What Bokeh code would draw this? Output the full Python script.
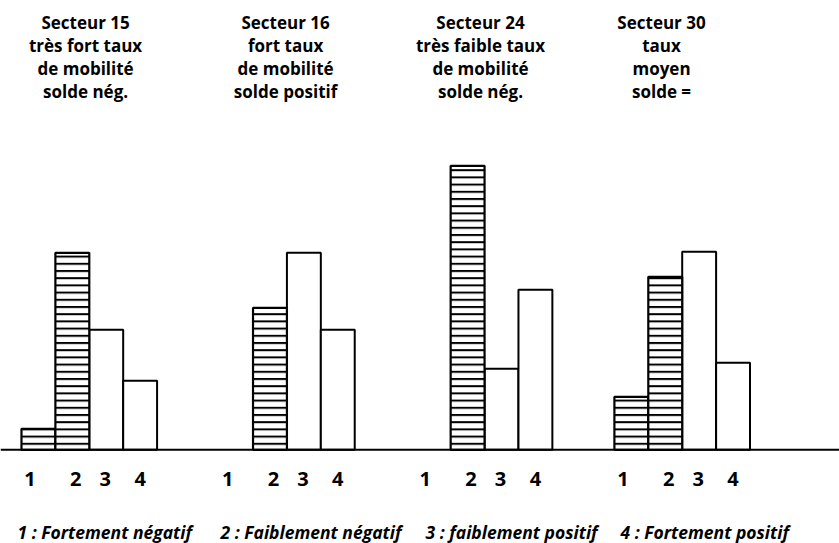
from bokeh.plotting import figure
from bokeh.models import Range1d, Span, Label
from bokeh.core.properties import value
from bokeh.embed import file_html
from bokeh.resources import INLINE

# ---- data ----
SECTEURS = ["Secteur 15", "Secteur 16", "Secteur 24", "Secteur 30"]
DESCRIPTIONS = [
    ["très fort taux", "de mobilité", "solde nég."],
    ["fort taux", "de mobilité", "solde positif"],
    ["très faible taux", "de mobilité", "solde nég."],
    ["taux", "moyen", "solde ="],
]
CLASSES = ["1", "2", "3", "4"]
SECTEUR_15 = [21, 197, 120, 69]
SECTEUR_16 = [0, 142, 197, 120]
SECTEUR_24 = [0, 284, 81, 160]
SECTEUR_30 = [53, 173, 198, 87]
LEGEND = ["1 : Fortement négatif", "2 : Faiblement négatif",
          "3 : faiblement positif", "4 : Fortement positif"]

SERIES = [SECTEUR_15, SECTEUR_16, SECTEUR_24, SECTEUR_30]
HATCHED = [True, True, False, False]

# ---- layout / style ----
GROUP_STEP = 5.83
TITLE_NUDGE = [-0.11, -0.04, -0.12, -0.61]
DIGIT_NUDGE = [-0.25, 0.1, -0.03, 0.0]
LEGEND_SCREEN_X = [17, 220, 425, 620]
FONT = value("Open Sans")

p = figure(width=839, height=543, output_backend="svg", toolbar_location=None,
           x_range=Range1d(-0.619, 24.130), y_range=Range1d(-93.7, 449.3),
           x_axis_location=None, y_axis_location=None, min_border=0)
p.grid.visible = False
p.outline_line_color = None
p.background_fill_color = "white"
p.border_fill_color = "white"

hx, hy, wx, wy = [], [], [], []
for g, vals in enumerate(SERIES):
    for b, v in enumerate(vals):
        if v <= 0:
            continue
        xc = g * GROUP_STEP + b + 0.5
        if HATCHED[b]:
            hx.append(xc); hy.append(v)
        else:
            wx.append(xc); wy.append(v)

p.vbar(x=wx, top=wy, bottom=0, width=1.0, fill_color="white",
       line_color="black", line_width=2)
p.vbar(x=hx, top=hy, bottom=0, width=1.0, fill_color="white",
       line_color="black", line_width=2.2,
       hatch_pattern="horizontal_line", hatch_color="black",
       hatch_scale=7.2, hatch_weight=2)

p.add_layout(Span(location=0, dimension="width", line_color="black", line_width=2))

# titles
tx, ty, tt = [], [], []
for g, name in enumerate(SECTEURS):
    lines = [name] + DESCRIPTIONS[g]
    for i, line in enumerate(lines):
        tx.append(g * GROUP_STEP + 2 + TITLE_NUDGE[g])
        ty.append(427.8 - 23 * i)
        tt.append(line)
p.text(x=tx, y=ty, text=tt, text_font=FONT, text_font_style="bold",
       text_font_size="17px", text_align="center", text_baseline="middle",
       text_color="black")

# class digits
dx, dy, dt = [], [], []
for g in range(len(SECTEURS)):
    for b, c in enumerate(CLASSES):
        dx.append(g * GROUP_STEP + b + 0.5 + DIGIT_NUDGE[b])
        dy.append(-29.2)
        dt.append(c)
p.text(x=dx, y=dy, text=dt, text_font=FONT, text_font_style="bold",
       text_font_size="20px", text_align="center", text_baseline="middle",
       text_color="black")

# legend
for sx, t in zip(LEGEND_SCREEN_X, LEGEND):
    p.add_layout(Label(x=sx, y=-81.7, x_units="screen", y_units="data", text=t,
                       text_font="Open Sans", text_font_style="bold italic",
                       text_font_size="17.5px", text_baseline="middle",
                       text_color="black"))

open("out.html", "w").write(file_html(p, INLINE))
